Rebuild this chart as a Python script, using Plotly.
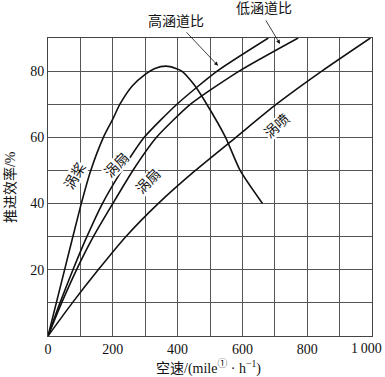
import plotly.graph_objects as go

# ---- data ----
turboprop_x = [0, 50, 100, 132, 171, 200, 222, 260, 300, 330, 364, 395, 413, 450, 490, 548, 593, 662]
turboprop_y = [0, 19.5, 39, 50, 60, 65.5, 70, 75.5, 79, 80.8, 81.5, 80.8, 80, 76, 70, 60, 50, 40]

high_bypass_x = [0, 37, 77, 120, 168, 228, 297, 398, 522, 680]
high_bypass_y = [0, 10, 20, 30, 40, 50, 60, 70, 80, 90]

low_bypass_x = [0, 42, 88, 140, 200, 262, 335, 440, 590, 772]
low_bypass_y = [0, 10, 20, 30, 40, 50, 60, 70, 80, 90]

turbojet_x = [0, 75, 155, 240, 340, 455, 580, 705, 845, 995]
turbojet_y = [0, 10, 20, 30, 40, 50, 60, 70, 80, 90]

x_tickvals = [0, 100, 200, 300, 400, 500, 600, 700, 800, 900, 1000]
x_ticktext = ["0", "", "200", "", "400", "", "600", "", "800", "", "1\u2009000"]
y_tickvals = [0, 10, 20, 30, 40, 50, 60, 70, 80, 90]
y_ticktext = ["", "", "20", "", "40", "", "60", "", "80", ""]

FONT = "Liberation Serif, Noto Sans CJK SC, serif"
LINE = dict(color="#111111", width=1.6, shape="spline", smoothing=0.6)
TXT = dict(family=FONT, size=14, color="#111")

fig = go.Figure()
for xs, ys in [(turboprop_x, turboprop_y), (high_bypass_x, high_bypass_y),
               (low_bypass_x, low_bypass_y), (turbojet_x, turbojet_y)]:
    fig.add_trace(go.Scatter(x=xs, y=ys, mode="lines", line=LINE,
                             showlegend=False, hoverinfo="skip"))

ann = []
# curve labels
for txt, x, y, ang in [("涡桨", 83, 48.3, -60), ("涡扇", 212, 51.5, -46),
                       ("涡扇", 310, 46.8, -46), ("涡喷", 706, 63.4, -42)]:
    ann.append(dict(text=txt, x=x, y=y, xref="x", yref="y", showarrow=False,
                    xanchor="center", yanchor="middle",
                    textangle=ang, font=TXT, bgcolor="white", borderpad=0))
# top labels
ann.append(dict(text="高涵道比", x=0.395, y=1.057, xref="paper", yref="paper",
                xanchor="center", yanchor="middle", showarrow=False, font=TXT))
ann.append(dict(text="低涵道比", x=0.667, y=1.100, xref="paper", yref="paper",
                xanchor="center", yanchor="middle", showarrow=False, font=TXT))
# arrows
ann.append(dict(text="", x=525, y=81.6, xref="x", yref="y", showarrow=True,
                ax=-33, ay=-35, arrowhead=2, arrowsize=1, arrowwidth=0.8,
                arrowcolor="#111"))
ann.append(dict(text="", x=716, y=88.2, xref="x", yref="y", showarrow=True,
                ax=-15, ay=-25, arrowhead=2, arrowsize=1, arrowwidth=0.8,
                arrowcolor="#111"))
# last x tick label, right-aligned so it stays inside the window
ann.append(dict(text=x_ticktext[-1], x=x_tickvals[-1], xref="x", y=-0.0436, yref="paper",
                xanchor="right", yanchor="middle", xshift=12, showarrow=False, font=TXT))
# axis titles
ann.append(dict(text="空速/(mile<sup>①</sup> · h<sup>−1</sup>)", x=0.494, y=-0.107,
                xref="paper", yref="paper", showarrow=False,
                xanchor="center", yanchor="middle", font=TXT))
ann.append(dict(text="推进效率/%", x=-0.117, y=0.5, xref="paper", yref="paper",
                showarrow=False, xanchor="center", yanchor="middle",
                textangle=-90, font=TXT))

axis_common = dict(showgrid=True, gridcolor="#555555", gridwidth=1,
                   showline=True, linecolor="#444444", linewidth=1, mirror=True,
                   ticks="", zeroline=False, ticklabeloverflow="allow",
                   automargin=False, tickfont=TXT)

fig.update_layout(
    width=385, height=377, autosize=False,
    margin=dict(l=48, r=13, t=38, b=41, autoexpand=False),
    paper_bgcolor="white", plot_bgcolor="white",
    xaxis=dict(range=[0, 1000], tickvals=x_tickvals,
               ticktext=x_ticktext[:-1] + [""], **axis_common),
    yaxis=dict(range=[0, 90], tickvals=y_tickvals, ticktext=y_ticktext, **axis_common),
    annotations=ann,
)

# remove the page's default body margin so the figure sits at the window origin
fig.write_html(
    "out.html",
    config={"displayModeBar": False, "responsive": False},
    post_script="document.body.style.margin='0px';document.body.style.overflow='hidden';"
                "document.documentElement.style.overflow='hidden';",
)
